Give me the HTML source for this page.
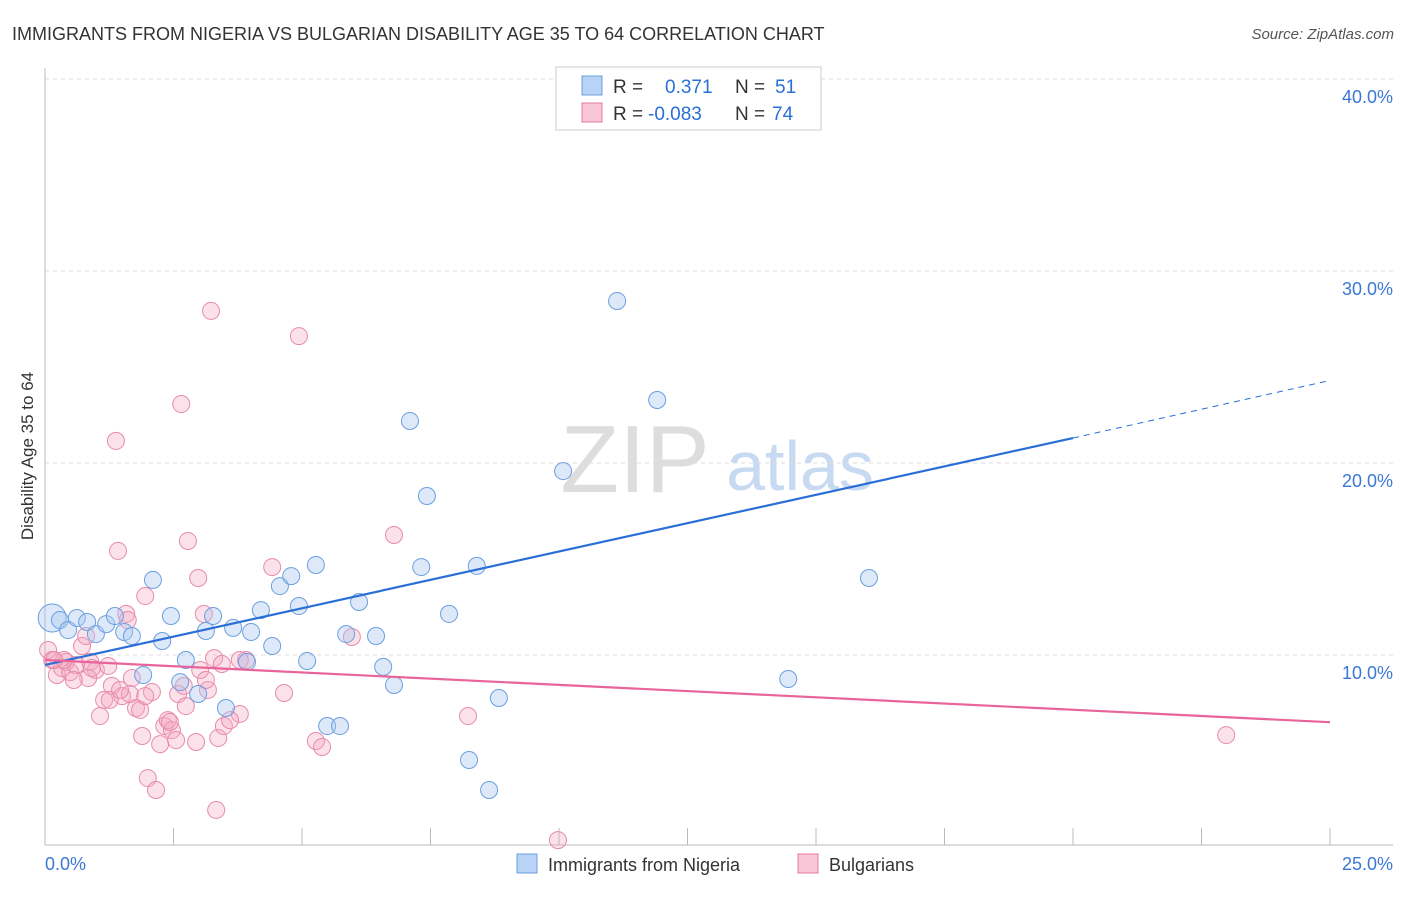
<!DOCTYPE html>
<html><head><meta charset="utf-8"><style>
body{margin:0;background:#fff;font-family:"Liberation Sans",sans-serif}
svg text{font-family:"Liberation Sans",sans-serif}
</style></head><body>
<svg id="chart" width="1406" height="892">
<text x="12" y="40" font-size="18" fill="#333">IMMIGRANTS FROM NIGERIA VS BULGARIAN DISABILITY AGE 35 TO 64 CORRELATION CHART</text>
<text x="1394" y="39" font-size="15" fill="#555" text-anchor="end" font-style="italic">Source: ZipAtlas.com</text>
<text x="635" y="492" font-size="96" fill="#ddd" font-family="Liberation Serif" text-anchor="middle">ZIP</text>
<text x="800" y="490" font-size="70" fill="#c8daf2" text-anchor="middle">atlas</text>
<text transform="translate(33,456) rotate(-90)" font-size="17" fill="#333" text-anchor="middle">Disability Age 35 to 64</text>
<g id="grid"></g><g id="marks"></g>
<g>
<rect x="556" y="67" width="265" height="63" fill="#fff" stroke="#ccc"/>
<rect x="582" y="76" width="20" height="19" fill="#b8d3f5" stroke="#6a9fe0"/>
<rect x="582" y="103" width="20" height="19" fill="#f9c6d7" stroke="#e8799f"/>
<text x="613" y="93" font-size="19" fill="#333">R = </text><text x="665" y="93" font-size="19" fill="#2a6fd6">0.371</text>
<text x="735" y="93" font-size="19" fill="#333">N = </text><text x="775" y="93" font-size="19" fill="#2a6fd6">51</text>
<text x="613" y="120" font-size="19" fill="#333">R = </text><text x="648" y="120" font-size="19" fill="#2a6fd6">-0.083</text>
<text x="735" y="120" font-size="19" fill="#333">N = </text><text x="772" y="120" font-size="19" fill="#2a6fd6">74</text>
</g>
<g>
<rect x="517" y="854" width="20" height="19" fill="#b8d3f5" stroke="#6a9fe0"/>
<text x="548" y="871" font-size="18" fill="#333">Immigrants from Nigeria</text>
<rect x="798" y="854" width="20" height="19" fill="#f9c6d7" stroke="#e8799f"/>
<text x="829" y="871" font-size="18" fill="#333">Bulgarians</text>
</g>
</svg>
<script>
const xTicks=[0,2.5,5,7.5,10,12.5,15,17.5,20,22.5,25];
const yTicks=[10,20,30,40];
const yTickLabels=["10.0%","20.0%","30.0%","40.0%"];
const xEndLabels=["0.0%","25.0%"];
const blueX=[0.14,0.29,0.45,0.62,0.82,0.99,1.19,1.36,1.54,1.69,1.91,2.10,2.28,2.45,2.63,2.74,2.98,3.13,3.27,3.52,3.66,3.93,4.01,4.20,4.42,4.57,4.79,4.94,5.10,5.27,5.49,5.74,5.86,6.11,6.44,6.58,6.79,7.10,7.32,7.43,7.86,8.25,8.40,8.64,8.83,10.08,11.13,11.38,11.91,14.46,16.03];
const blueY=[11.93,11.82,11.30,11.93,11.72,11.09,11.61,12.03,11.20,10.99,8.96,13.91,10.73,12.03,8.59,9.74,7.97,11.25,12.03,7.24,11.41,9.64,11.20,12.34,10.47,13.59,14.11,12.55,9.69,14.69,6.30,6.30,11.09,12.76,10.99,9.38,8.44,22.19,14.58,18.28,12.14,4.53,14.64,2.97,7.76,19.58,28.44,39.95,23.28,8.75,14.01];
const pinkX=[0.06,0.14,0.23,0.33,0.41,0.49,0.60,0.72,0.80,0.88,0.99,1.07,1.15,1.23,1.30,1.38,1.42,1.50,1.58,1.61,1.69,1.77,1.85,1.89,1.95,2.00,2.08,2.16,2.24,2.32,2.39,2.47,2.55,2.59,2.65,2.70,2.78,2.94,2.98,3.09,3.17,3.23,3.29,3.33,3.37,3.44,3.48,3.79,3.91,4.42,4.65,4.94,5.27,5.39,5.97,6.79,8.23,9.98,22.98,0.84,1.26,1.65,1.95,2.43,3.02,3.60,0.91,0.56,0.37,3.13,1.46,2.74,3.79,0.18];
const pinkY=[10.26,9.74,8.96,9.32,9.64,9.11,9.48,10.47,10.99,9.64,9.22,6.82,7.66,9.43,8.39,21.15,15.42,7.86,12.14,11.82,8.80,7.24,7.14,5.78,13.07,3.59,8.07,2.97,5.36,6.30,6.61,6.09,5.57,7.97,23.07,8.39,15.94,5.47,14.01,12.14,8.18,27.92,9.84,1.93,5.68,9.53,6.30,6.93,9.74,14.58,8.02,26.61,5.52,5.21,10.94,16.25,6.82,0.36,5.83,8.80,7.66,7.97,7.86,6.51,9.22,6.61,9.32,8.70,9.74,8.70,8.18,7.34,9.74,9.74];
const blueTrend=[9.48,21.3,24.3]; // at x=0, 20, 25
const pinkTrend=[9.74,6.5]; // at x=0, 25
const X=v=>45+v*51.4, Y=v=>847-v*19.2;
const NS="http://www.w3.org/2000/svg";
function mk(tag,attrs,parent){const e=document.createElementNS(NS,tag);for(const k in attrs)e.setAttribute(k,attrs[k]);parent.appendChild(e);return e;}
const grid=document.getElementById('grid'),marks=document.getElementById('marks');
yTicks.forEach((t,i)=>{
 const l=mk('line',{x1:45,x2:1393,y1:Y(t),y2:Y(t),stroke:'#ddd','stroke-dasharray':'4,4'},grid);
 
 
 const tx=mk('text',{x:1393,y:Y(t)+24,'font-size':18,fill:'#3a78d6','text-anchor':'end'},grid);tx.textContent=yTickLabels[i];
 
 
});
let a=mk('line',{x1:45,x2:45,y1:68,y2:845,stroke:'#bbb'},grid);


a=mk('line',{x1:45,x2:1393,y1:845,y2:845,stroke:'#bbb'},grid);


xTicks.forEach(t=>{const l=mk('line',{x1:X(t),x2:X(t),y1:828,y2:845,stroke:'#bbb'},grid);
 
 });
let t0=mk('text',{x:45,y:870,'font-size':18,fill:'#3a78d6'},grid);t0.textContent=xEndLabels[0];


t0=mk('text',{x:1393,y:870,'font-size':18,fill:'#3a78d6','text-anchor':'end'},grid);t0.textContent=xEndLabels[1];


pinkX.forEach((x,i)=>{const c=mk('circle',{cx:X(x),cy:Y(pinkY[i]),r:8.5,fill:'rgba(244,170,196,0.35)',stroke:'#e98aab','stroke-width':1},marks);
 
 });
blueX.forEach((x,i)=>{const c=mk('circle',{cx:X(x),cy:Y(blueY[i]),r:i==0?14:8.5,fill:'rgba(169,200,240,0.4)',stroke:'#6a9fe0','stroke-width':1},marks);
 
 });
let ln=mk('line',{x1:X(0),y1:Y(blueTrend[0]),x2:X(20),y2:Y(blueTrend[1]),stroke:'#2a6fd6','stroke-width':2.2},marks);


ln=mk('line',{x1:X(20),y1:Y(blueTrend[1]),x2:X(25),y2:Y(blueTrend[2]),stroke:'#2a6fd6','stroke-width':1,'stroke-dasharray':'6,5'},marks);


ln=mk('line',{x1:X(0),y1:Y(pinkTrend[0]),x2:X(25),y2:Y(pinkTrend[1]),stroke:'#e8649a','stroke-width':2.2},marks);


</script>
</body></html>
